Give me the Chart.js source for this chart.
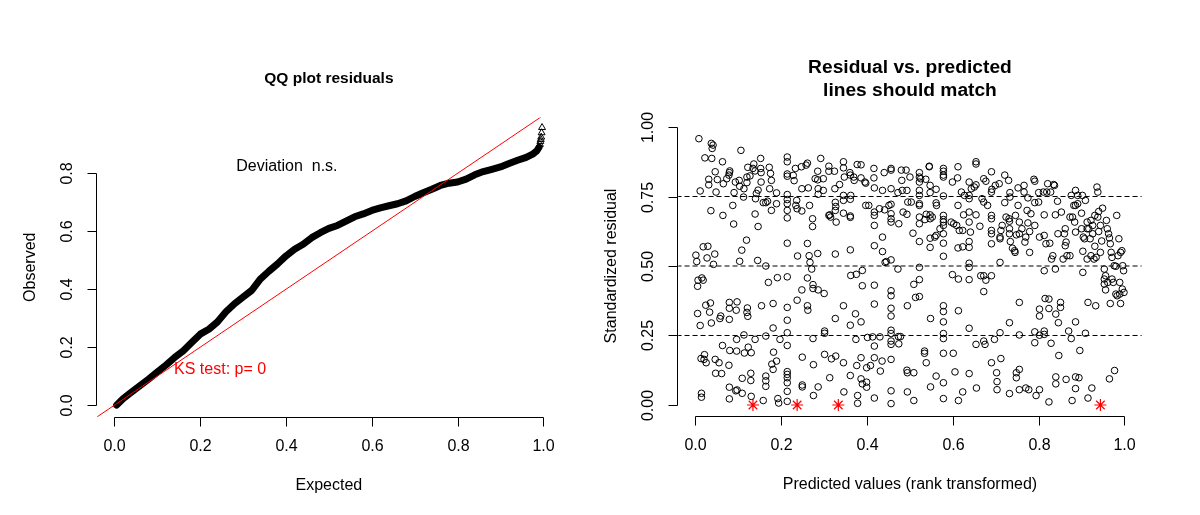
<!DOCTYPE html>
<html>
<head>
<meta charset="utf-8">
<script src="https://cdn.jsdelivr.net/npm/chart.js@4.4.1/dist/chart.umd.min.js"></script>
<style>
  body { margin: 0; background: #fff; }
  .panel { position: absolute; top: 0; width: 600px; height: 515px; }
</style>
</head>
<body>
<div class="panel" style="left:0"><canvas id="qqChart" width="600" height="515"></canvas></div>
<div class="panel" style="left:600px"><canvas id="residChart" width="600" height="515"></canvas></div>
<script>
/* Data START */
// QQ plot: expected vs observed quantiles
var qqExpected = [0.005, 0.02, 0.04, 0.06, 0.08, 0.10, 0.12, 0.14, 0.16, 0.18, 0.20, 0.22, 0.24, 0.26, 0.28, 0.30,
    0.32, 0.34, 0.36, 0.38, 0.40, 0.42, 0.44, 0.46, 0.48, 0.50, 0.52, 0.54, 0.56, 0.58, 0.60, 0.62, 0.64, 0.66,
    0.68, 0.70, 0.72, 0.74, 0.76, 0.78, 0.80, 0.82, 0.84, 0.86, 0.88, 0.90, 0.92, 0.94, 0.96, 0.975, 0.985, 0.99];
var qqObserved = [0.0, 0.022, 0.045, 0.068, 0.090, 0.114, 0.138, 0.164, 0.187, 0.216, 0.245, 0.262, 0.287, 0.322, 0.350, 0.373,
    0.396, 0.435, 0.462, 0.487, 0.515, 0.538, 0.555, 0.578, 0.595, 0.610, 0.620, 0.635, 0.650, 0.660, 0.672, 0.681, 0.688, 0.695,
    0.705, 0.720, 0.733, 0.745, 0.758, 0.766, 0.770, 0.780, 0.795, 0.806, 0.814, 0.822, 0.834, 0.845, 0.855, 0.866, 0.878, 0.890];
// the few separate triangles at the top end
var qqTailExpected = [0.992, 0.993, 0.994, 0.995, 0.996, 0.997];
var qqTailObserved = [0.900, 0.910, 0.917, 0.925, 0.940, 0.958];

// residual vs predicted: [predicted (rank transformed), scaled residual]
var residuals = [
    [0.008,0.958],[0.011,0.770],[0.001,0.539],[0.003,0.516],[0.006,0.449],[0.005,0.427],[0.015,0.457],[0.018,0.449],[0.005,0.329],[0.011,0.286],
    [0.018,0.569],[0.029,0.571],[0.027,0.529],[0.024,0.359],[0.035,0.367],[0.033,0.334],[0.037,0.295],[0.013,0.167],[0.021,0.181],[0.025,0.152],
    [0.020,0.164],[0.014,0.042],[0.014,0.028],[0.022,0.889],[0.031,0.812],[0.031,0.792],[0.036,0.699],[0.037,0.941],[0.039,0.923],[0.038,0.887],
    [0.041,0.935],[0.045,0.543],[0.042,0.506],[0.046,0.839],[0.048,0.766],[0.046,0.164],[0.047,0.114],
    [0.055,0.152],[0.057,0.311],[0.059,0.320],[0.061,0.113],[0.063,0.214],[0.063,0.875],[0.051,0.811],[0.065,0.796],[0.064,0.682],[0.073,0.814],
    [0.078,0.827],[0.079,0.836],[0.080,0.842],[0.079,0.308],[0.079,0.348],[0.079,0.369],[0.078,0.143],[0.080,0.196],[0.079,0.064],[0.079,0.022],
    [0.087,0.718],[0.089,0.651],[0.090,0.764],[0.096,0.194],[0.096,0.236],[0.094,0.051],[0.097,0.054],[0.097,0.371],[0.095,0.341],[0.093,0.802],
    [0.102,0.808],[0.103,0.787],[0.106,0.916],[0.108,0.557],[0.103,0.517],[0.109,0.042],[0.109,0.096],[0.113,0.778],[0.112,0.748],[0.113,0.252],
    [0.114,0.187],[0.119,0.593],[0.120,0.820],[0.122,0.855],[0.120,0.333],[0.121,0.349],[0.122,0.319],[0.123,0.208],[0.129,0.114],[0.130,0.031],
    [0.129,0.088],[0.130,0.188],[0.136,0.867],[0.134,0.851],[0.139,0.842],[0.139,0.687],[0.139,0.236],[0.140,0.742],[0.142,0.761],[0.146,0.773],
    [0.146,0.642],[0.145,0.520],[0.127,0.824],[0.120,0.800],
    [0.152,0.887],[0.152,0.851],[0.153,0.836],[0.153,0.802],[0.154,0.357],[0.158,0.016],[0.164,0.500],[0.164,0.728],[0.164,0.248],[0.168,0.733],
    [0.170,0.441],[0.164,0.104],[0.164,0.087],[0.164,0.067],[0.172,0.855],[0.175,0.833],[0.177,0.700],[0.177,0.808],[0.178,0.147],[0.181,0.128],
    [0.181,0.277],[0.181,0.365],[0.182,0.190],[0.189,0.763],[0.189,0.724],[0.191,0.458],[0.192,0.023],[0.194,0.007],[0.197,0.236],[0.189,0.158],
    [0.173,0.778],[0.158,0.728],
    [0.214,0.892],[0.214,0.875],[0.214,0.831],[0.214,0.823],[0.214,0.757],[0.214,0.739],[0.214,0.724],[0.214,0.700],[0.214,0.673],[0.214,0.582],
    [0.214,0.461],[0.214,0.351],[0.214,0.305],[0.214,0.260],[0.214,0.214],[0.214,0.120],[0.214,0.110],[0.214,0.098],[0.214,0.080],[0.214,0.049],
    [0.214,0.013],[0.230,0.807],[0.233,0.851],[0.236,0.736],[0.237,0.706],[0.238,0.536],[0.237,0.377],[0.247,0.857],[0.248,0.778],[0.248,0.698],
    [0.248,0.414],[0.249,0.172],[0.249,0.072],[0.249,0.065],[0.228,0.826],[0.234,0.718],
    [0.258,0.863],[0.261,0.870],[0.261,0.581],[0.261,0.457],[0.261,0.357],[0.262,0.341],[0.265,0.537],[0.267,0.513],[0.271,0.489],[0.273,0.670],
    [0.273,0.642],[0.274,0.433],[0.274,0.419],[0.274,0.239],[0.275,0.145],[0.275,0.034],[0.285,0.841],[0.285,0.810],[0.286,0.778],[0.286,0.758],
    [0.285,0.545],[0.286,0.414],[0.286,0.065],[0.292,0.887],[0.298,0.772],[0.300,0.401],[0.263,0.781],[0.266,0.718],[0.279,0.814],
    [0.298,0.814],[0.301,0.182],[0.301,0.266],[0.301,0.258],[0.311,0.859],[0.311,0.841],[0.311,0.682],[0.313,0.098],[0.317,0.166],[0.324,0.841],
    [0.325,0.778],[0.326,0.543],[0.326,0.311],[0.326,0.729],[0.326,0.700],[0.327,0.176],[0.327,0.714],[0.328,0.658],[0.336,0.793],[0.345,0.875],
    [0.345,0.853],[0.345,0.754],[0.345,0.736],[0.345,0.690],[0.345,0.357],[0.345,0.152],[0.346,0.047],[0.347,0.820],[0.315,0.676],[0.313,0.684],
    [0.360,0.836],[0.361,0.827],[0.362,0.754],[0.361,0.740],[0.361,0.680],[0.361,0.675],[0.361,0.558],[0.361,0.287],[0.361,0.106],[0.362,0.466],
    [0.369,0.820],[0.373,0.328],[0.374,0.236],[0.375,0.470],[0.376,0.142],[0.378,0.034],[0.378,0.006],[0.386,0.817],[0.386,0.864],[0.389,0.429],
    [0.389,0.484],[0.386,0.299],[0.386,0.170],[0.389,0.076],[0.386,0.094],[0.397,0.798],[0.397,0.718],[0.399,0.134],[0.399,0.064],[0.399,0.082],
    [0.377,0.865],[0.370,0.808],[0.395,0.802],
    [0.401,0.243],[0.404,0.718],[0.408,0.142],[0.416,0.851],[0.416,0.817],[0.417,0.781],[0.417,0.694],[0.417,0.682],[0.417,0.646],[0.417,0.573],
    [0.417,0.431],[0.417,0.363],[0.417,0.212],[0.417,0.170],[0.417,0.025],[0.413,0.245],[0.430,0.245],[0.429,0.706],[0.431,0.122],[0.435,0.158],
    [0.436,0.772],[0.436,0.552],[0.436,0.604],[0.440,0.836],[0.441,0.702],[0.442,0.513],[0.445,0.516],[0.451,0.718],
    [0.456,0.845],[0.456,0.851],[0.456,0.778],[0.456,0.722],[0.456,0.688],[0.456,0.670],[0.456,0.658],[0.456,0.522],[0.456,0.411],[0.456,0.393],
    [0.456,0.348],[0.456,0.320],[0.456,0.269],[0.456,0.257],[0.456,0.230],[0.456,0.218],[0.456,0.164],[0.456,0.051],[0.456,0.005],[0.472,0.489],
    [0.474,0.652],[0.472,0.764],[0.473,0.246],[0.474,0.220],[0.478,0.246],[0.480,0.845],[0.481,0.808],[0.482,0.772],[0.484,0.694],[0.491,0.845],
    [0.493,0.686],[0.494,0.357],[0.493,0.772],[0.493,0.125],[0.494,0.116],[0.494,0.047],[0.495,0.730],
    [0.500,0.820],[0.503,0.730],[0.507,0.618],[0.509,0.434],[0.509,0.116],[0.509,0.016],[0.513,0.387],[0.522,0.451],[0.522,0.390],[0.522,0.836],
    [0.522,0.820],[0.522,0.802],[0.522,0.772],[0.522,0.754],[0.522,0.724],[0.522,0.718],[0.522,0.676],[0.522,0.652],[0.522,0.588],[0.522,0.495],
    [0.525,0.814],[0.534,0.194],[0.534,0.186],[0.538,0.152],[0.538,0.686],[0.535,0.667],[0.537,0.812],[0.545,0.857],[0.545,0.859],[0.547,0.790],
    [0.547,0.764],[0.547,0.684],[0.547,0.670],[0.547,0.600],[0.547,0.567],[0.548,0.311],[0.548,0.065],[0.552,0.676],
    [0.558,0.604],[0.561,0.776],[0.561,0.727],[0.561,0.104],[0.562,0.718],[0.561,0.610],[0.570,0.634],[0.578,0.851],[0.578,0.841],[0.578,0.827],
    [0.578,0.820],[0.578,0.752],[0.578,0.682],[0.578,0.667],[0.578,0.658],[0.578,0.646],[0.578,0.616],[0.578,0.582],[0.578,0.535],[0.578,0.357],
    [0.578,0.336],[0.578,0.299],[0.578,0.257],[0.578,0.239],[0.578,0.186],[0.578,0.080],[0.578,0.023],[0.596,0.658],[0.599,0.802],[0.599,0.469],
    [0.601,0.186],[0.602,0.652],
    [0.605,0.119],[0.609,0.646],[0.611,0.817],[0.612,0.857],[0.612,0.718],[0.612,0.565],[0.613,0.453],[0.613,0.339],[0.613,0.016],[0.615,0.628],
    [0.620,0.766],[0.623,0.047],[0.625,0.684],[0.623,0.569],[0.623,0.628],[0.627,0.754],[0.638,0.754],[0.638,0.742],[0.638,0.802],[0.638,0.694],
    [0.638,0.658],[0.638,0.588],[0.638,0.567],[0.638,0.510],[0.638,0.495],[0.638,0.451],[0.638,0.276],[0.638,0.113],[0.641,0.622],[0.643,0.778],
    [0.650,0.784],
    [0.654,0.875],[0.654,0.867],[0.654,0.792],[0.654,0.684],[0.654,0.218],[0.655,0.061],[0.663,0.643],[0.665,0.465],[0.668,0.742],[0.672,0.814],
    [0.672,0.730],[0.672,0.408],[0.672,0.465],[0.672,0.230],[0.675,0.218],[0.677,0.449],[0.677,0.805],[0.681,0.718],[0.690,0.839],[0.690,0.766],
    [0.690,0.682],[0.690,0.670],[0.690,0.628],[0.690,0.616],[0.690,0.580],[0.690,0.465],[0.690,0.152],[0.691,0.776],[0.697,0.236],[0.699,0.790],
    [0.702,0.116],[0.703,0.084],[0.703,0.055],[0.708,0.796],[0.710,0.598],[0.710,0.604],[0.710,0.513],[0.710,0.260],[0.712,0.167],[0.712,0.628],
    [0.715,0.646],[0.721,0.827],[0.721,0.728],[0.724,0.676],[0.730,0.808],[0.731,0.670],[0.732,0.661],[0.732,0.634],[0.732,0.616],[0.732,0.296],
    [0.732,0.041],[0.733,0.764],[0.733,0.748],[0.734,0.588],[0.739,0.564],[0.744,0.555],[0.745,0.549],[0.746,0.682],[0.748,0.612],[0.748,0.116],
    [0.748,0.098],
    [0.752,0.781],[0.752,0.718],[0.755,0.658],[0.755,0.616],[0.755,0.369],[0.755,0.252],[0.755,0.128],[0.755,0.055],[0.761,0.634],[0.766,0.790],
    [0.766,0.766],[0.768,0.586],[0.770,0.604],[0.770,0.061],[0.773,0.700],[0.775,0.745],[0.775,0.655],[0.777,0.055],[0.779,0.624],[0.779,0.549],
    [0.782,0.688],[0.789,0.812],[0.791,0.805],[0.791,0.728],[0.791,0.646],[0.791,0.263],[0.791,0.224],[0.794,0.034],[0.800,0.730],[0.800,0.764],
    [0.802,0.604],[0.802,0.320],[0.802,0.345],[0.802,0.251],[0.802,0.055],
    [0.811,0.766],[0.813,0.684],[0.813,0.610],[0.813,0.483],[0.813,0.266],[0.813,0.254],[0.815,0.383],[0.817,0.580],[0.819,0.766],[0.821,0.796],
    [0.824,0.381],[0.824,0.347],[0.824,0.011],[0.826,0.582],[0.828,0.766],[0.829,0.222],[0.830,0.525],[0.833,0.537],[0.835,0.793],[0.837,0.790],
    [0.839,0.684],[0.839,0.489],[0.840,0.327],[0.840,0.101],[0.840,0.076],[0.844,0.733],[0.845,0.616],[0.846,0.296],[0.847,0.178],[0.851,0.369],
    [0.851,0.351],
    [0.853,0.694],[0.857,0.525],[0.860,0.616],[0.862,0.634],[0.862,0.573],[0.864,0.586],[0.864,0.092],[0.866,0.537],[0.870,0.266],[0.873,0.676],
    [0.873,0.537],[0.876,0.239],[0.876,0.754],[0.878,0.016],[0.879,0.676],[0.882,0.718],[0.884,0.658],[0.886,0.772],[0.886,0.718],[0.886,0.622],
    [0.886,0.299],[0.886,0.101],[0.886,0.059],[0.891,0.754],[0.891,0.724],[0.894,0.098],[0.896,0.196],[0.900,0.634],[0.900,0.690],
    [0.902,0.754],[0.903,0.553],[0.903,0.477],[0.904,0.604],[0.907,0.598],[0.909,0.736],[0.909,0.258],[0.913,0.658],[0.913,0.634],[0.913,0.525],
    [0.915,0.025],[0.915,0.369],[0.917,0.634],[0.920,0.598],[0.922,0.537],[0.922,0.664],[0.924,0.061],[0.926,0.646],[0.926,0.616],[0.929,0.525],
    [0.931,0.682],[0.931,0.571],[0.933,0.357],[0.934,0.531],[0.936,0.784],[0.938,0.766],[0.938,0.676],[0.940,0.624],[0.940,0.696],[0.944,0.646],
    [0.944,0.549],[0.947,0.590],[0.949,0.708],
    [0.953,0.489],[0.953,0.453],[0.956,0.465],[0.953,0.435],[0.956,0.414],[0.958,0.664],[0.960,0.634],[0.961,0.441],[0.963,0.616],[0.965,0.601],
    [0.965,0.094],[0.967,0.580],[0.967,0.365],[0.969,0.549],[0.971,0.531],[0.971,0.453],[0.974,0.441],[0.976,0.501],[0.977,0.124],[0.980,0.499],
    [0.980,0.399],[0.982,0.682],[0.983,0.393],[0.985,0.537],[0.987,0.598],[0.989,0.399],[0.989,0.441],[0.991,0.549],[0.991,0.365],[0.994,0.555],
    [0.995,0.417],[0.996,0.501],[0.998,0.483],[0.999,0.405]
];
// simulation outliers (red stars on the bottom line)
var outlierPredicted = [0.134, 0.237, 0.333, 0.944];
var outlierResidual = [0, 0, 0, 0];
// quantile reference lines
var quantileLevels = [0.25, 0.5, 0.75];

var qqXTicks = [0, 0.2, 0.4, 0.6, 0.8, 1.0];
var qqXLabels = ['0.0', '0.2', '0.4', '0.6', '0.8', '1.0'];
var qqYTicks = [0, 0.2, 0.4, 0.6, 0.8];
var qqYLabels = ['0.0', '0.2', '0.4', '0.6', '0.8'];
var resXTicks = [0, 0.2, 0.4, 0.6, 0.8, 1.0];
var resXLabels = ['0.0', '0.2', '0.4', '0.6', '0.8', '1.0'];
var resYTicks = [0, 0.25, 0.5, 0.75, 1.0];
var resYLabels = ['0.00', '0.25', '0.50', '0.75', '1.00'];
/* Data END */

var FONT = '"Liberation Sans", Arial, sans-serif';

// R-like axes: line only between first and last tick, ticks outward, rotated y labels
function rAxes(cfg) {
    return {
        id: 'rAxes',
        afterDatasetsDraw(chart) {
            const ctx = chart.ctx;
            const area = chart.chartArea;
            const sx = chart.scales.x, sy = chart.scales.y;
            ctx.save();
            ctx.strokeStyle = '#000';
            ctx.fillStyle = '#000';
            ctx.lineWidth = 1;
            ctx.font = '16px ' + FONT;
            ctx.textAlign = 'center';
            ctx.textBaseline = 'middle';

            // x axis
            const yAx = Math.round(area.bottom) + 0.5;
            const xp = cfg.xTicks.map(v => Math.round(sx.getPixelForValue(v)) + 0.5);
            ctx.beginPath();
            ctx.moveTo(xp[0], yAx);
            ctx.lineTo(xp[xp.length - 1], yAx);
            xp.forEach(p => { ctx.moveTo(p, yAx); ctx.lineTo(p, yAx + 9); });
            ctx.stroke();
            xp.forEach((p, i) => ctx.fillText(cfg.xLabels[i], p, yAx + 29));
            ctx.fillText(cfg.xTitle, (area.left + area.right) / 2, yAx + 68);

            // y axis
            const xAx = Math.round(area.left) - 0.5;
            const yp = cfg.yTicks.map(v => Math.round(sy.getPixelForValue(v)) + 0.5);
            ctx.beginPath();
            ctx.moveTo(xAx, yp[0]);
            ctx.lineTo(xAx, yp[yp.length - 1]);
            yp.forEach(p => { ctx.moveTo(xAx, p); ctx.lineTo(xAx - 9, p); });
            ctx.stroke();
            yp.forEach((p, i) => {
                ctx.save();
                ctx.translate(xAx - 28.5, p);
                ctx.rotate(-Math.PI / 2);
                ctx.fillText(cfg.yLabels[i], 0, 0);
                ctx.restore();
            });
            ctx.save();
            ctx.translate(xAx - 66, (area.top + area.bottom) / 2);
            ctx.rotate(-Math.PI / 2);
            ctx.fillText(cfg.yTitle, 0, 0);
            ctx.restore();

            // main title
            ctx.font = 'bold ' + cfg.titleSize + 'px ' + FONT;
            cfg.title.forEach((t, i) => ctx.fillText(t, (area.left + area.right) / 2, cfg.titleY + i * 23));

            // text notes placed in data units
            (cfg.notes || []).forEach(n => {
                ctx.font = '16px ' + FONT;
                ctx.fillStyle = n.color;
                ctx.textAlign = n.align;
                ctx.fillText(n.text, sx.getPixelForValue(n.x), sy.getPixelForValue(n.y));
            });
            ctx.restore();
        }
    };
}

function baseOptions(pad, xr, yr) {
    return {
        responsive: false,
        animation: false,
        events: [],
        layout: { padding: pad },
        plugins: { legend: { display: false }, tooltip: { enabled: false }, title: { display: false } },
        scales: {
            x: { type: 'linear', display: false, min: xr[0], max: xr[1] },
            y: { type: 'linear', display: false, min: yr[0], max: yr[1] }
        }
    };
}

function createQQPlot() {
    var band = qqExpected.map((x, i) => ({ x: x, y: qqObserved[i] }));
    var tail = qqTailExpected.map((x, i) => ({ x: x, y: qqTailObserved[i] }));

    new Chart('qqChart', {
        type: 'scatter',
        data: {
            datasets: [{
                // 1:1 reference line
                data: [{ x: -0.1, y: -0.1 }, { x: 1.1, y: 1.1 }],
                showLine: true,
                borderColor: '#ff0000',
                borderWidth: 1,
                pointRadius: 0,
                order: 0
            }, {
                data: band,
                showLine: true,
                borderColor: '#000',
                borderWidth: 7,
                borderCapStyle: 'round',
                borderJoinStyle: 'round',
                pointRadius: 0,
                order: 1
            }, {
                data: tail,
                pointStyle: 'triangle',
                pointRadius: 4,
                borderColor: '#000',
                backgroundColor: 'rgba(0,0,0,0)',
                borderWidth: 1,
                order: 1
            }]
        },
        options: baseOptions({ left: 97.3, right: 39.5, top: 117.4, bottom: 98 }, [-0.04, 1.04], [-0.041, 0.993]),
        plugins: [rAxes({
            xTicks: qqXTicks, xLabels: qqXLabels, yTicks: qqYTicks, yLabels: qqYLabels,
            xTitle: 'Expected', yTitle: 'Observed',
            title: ['QQ plot residuals'], titleSize: 15.5, titleY: 79,
            notes: [
                { text: 'Deviation  n.s.', x: 0.402, y: 0.822, color: '#000', align: 'center' },
                { text: 'KS test: p= 0', x: 0.139, y: 0.124, color: '#ff0000', align: 'left' }
            ]
        })]
    });
}

function createResidualPlot() {
    var pts = residuals.map(r => ({ x: r[0], y: r[1] }));
    var stars = outlierPredicted.map((x, i) => ({ x: x, y: outlierResidual[i] }));
    var datasets = [{
        data: pts,
        pointStyle: 'circle',
        pointRadius: 3.3,
        borderColor: '#000',
        backgroundColor: 'rgba(0,0,0,0)',
        borderWidth: 1
    }, {
        data: stars,
        pointStyle: 'star',
        pointRadius: 6,
        borderColor: '#ff0000',
        backgroundColor: '#ff0000',
        borderWidth: 1.2
    }];
    quantileLevels.forEach(q => {
        datasets.push({
            data: [{ x: -0.1, y: q }, { x: 1.1, y: q }],
            showLine: true,
            borderColor: '#000',
            borderWidth: 1,
            borderDash: [5, 3],
            pointRadius: 0
        });
    });

    new Chart('residChart', {
        type: 'scatter',
        data: { datasets: datasets },
        options: baseOptions({ left: 78.3, right: 58.4, top: 115.9, bottom: 98.9 }, [-0.04, 1.04], [-0.04, 1.04]),
        plugins: [rAxes({
            xTicks: resXTicks, xLabels: resXLabels, yTicks: resYTicks, yLabels: resYLabels,
            xTitle: 'Predicted values (rank transformed)', yTitle: 'Standardized residual',
            title: ['Residual vs. predicted', 'lines should match'], titleSize: 19.2, titleY: 68
        })]
    });
}

createQQPlot();
createResidualPlot();
</script>
</body>
</html>
